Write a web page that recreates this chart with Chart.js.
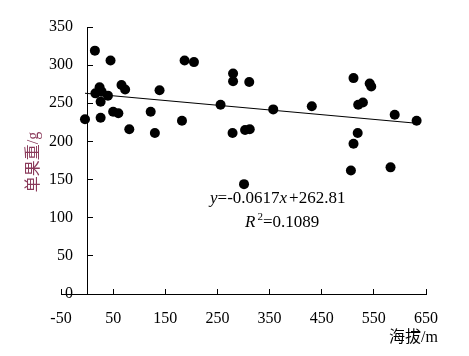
<!DOCTYPE html>
<html><head><meta charset="utf-8">
<script src="https://cdn.jsdelivr.net/npm/chart.js@4.4.1/dist/chart.umd.min.js"></script>
<style>html,body{margin:0;padding:0;background:#fff}canvas{display:block}</style>
</head><body>
<canvas id="c" width="469" height="356"></canvas>
<script>
// 海拔 (m)
const altitude = [-4, 15, 16, 24, 28, 26, 26, 40, 45, 50, 60, 66, 73, 81, 122, 130, 139, 182, 187, 205,
  256, 279, 280, 280, 303, 311, 312, 301, 357, 431, 511, 542, 545, 520, 529, 590, 632, 519, 511, 506, 582];
// 单果重 (g)
const fruitWeight = [229, 319, 263, 271, 265, 252, 231, 260, 306, 239, 237, 274, 268, 216, 239, 211, 267, 227, 306, 304,
  248, 211, 289, 279, 215, 278, 216, 144, 242, 246, 283, 276, 272, 248, 251, 235, 227, 211, 197, 162, 166];
const xTickValues = [-50, 50, 150, 250, 350, 450, 550, 650];
const yTickValues = [0, 50, 100, 150, 200, 250, 300, 350];
const slope = -0.0617;
const intercept = 262.81;
const rSquared = 0.1089;
const xTitle = '海拔/m';
const yTitle = '单果重/g';

const points = altitude.map((a, i) => ({x: a, y: fruitWeight[i]}));
const xMin = Math.min(...altitude), xMax = Math.max(...altitude);
const trend = [xMin, xMax].map(x => ({x, y: intercept + slope * x}));

const serif = '"Liberation Serif","Times New Roman","Noto Sans CJK SC",serif';

const annot = {
  id: 'annot',
  afterDraw(chart) {
    const ctx = chart.ctx;
    ctx.save();
    // y title
    ctx.translate(34, 162);
    ctx.rotate(-Math.PI / 2);
    ctx.fillStyle = '#8a3a5a';
    ctx.font = '16px ' + serif;
    ctx.textAlign = 'center';
    ctx.textBaseline = 'middle';
    ctx.fillText(yTitle, 0, 0);
    ctx.restore();

    ctx.save();
    ctx.fillStyle = '#000';
    ctx.font = '16px ' + serif;
    ctx.textAlign = 'right';
    ctx.textBaseline = 'alphabetic';
    ctx.fillText(xTitle, 438, 342);

    // equation
    const drawRuns = (runs, x, y) => {
      ctx.textAlign = 'left';
      for (const r of runs) {
        ctx.font = (r.italic ? 'italic ' : '') + (r.size || 17) + 'px ' + serif;
        ctx.fillText(r.t, x, y + (r.dy || 0));
        x += ctx.measureText(r.t).width + (r.gap || 0);
      }
    };
    drawRuns([
      {t: 'y', italic: true},
      {t: '=' + slope.toFixed(4)},
      {t: 'x', italic: true, gap: 2},
      {t: '+' + intercept.toFixed(2)}
    ], 210, 203);
    drawRuns([
      {t: 'R', italic: true, gap: 2},
      {t: '2', size: 11, dy: -7},
      {t: '=' + rSquared.toFixed(4)}
    ], 245, 227);
    ctx.restore();
  }
};

const axisGrid = {display: true, drawOnChartArea: false, drawTicks: true, tickLength: -6, color: '#000', lineWidth: 1};

new Chart(document.getElementById('c'), {
  type: 'scatter',
  data: {
    datasets: [
      {
        type: 'line',
        data: trend,
        borderColor: '#000',
        borderWidth: 1.1,
        pointRadius: 0,
        fill: false
      },
      {
        data: points,
        backgroundColor: '#000',
        borderWidth: 0,
        pointRadius: 5,
        pointHoverRadius: 5
      }
    ]
  },
  options: {
    responsive: false,
    animation: false,
    devicePixelRatio: 1,
    layout: {padding: {left: 61, right: 43, top: 27, bottom: 62}},
    plugins: {legend: {display: false}, tooltip: {enabled: false}},
    scales: {
      x: {
        type: 'linear',
        min: -50, max: 650,
        position: {y: 0},
        afterBuildTicks: s => { s.ticks = xTickValues.map(v => ({value: v})); },
        grid: axisGrid,
        border: {display: true, color: '#000', width: 1},
        ticks: {color: '#000', font: {family: serif, size: 16}, padding: 21, maxRotation: 0, autoSkip: false}
      },
      y: {
        type: 'linear',
        min: 0, max: 350,
        position: {x: 0},
        afterBuildTicks: s => { s.ticks = yTickValues.map(v => ({value: v})); },
        grid: axisGrid,
        border: {display: true, color: '#000', width: 1},
        ticks: {display: false}
      },
      yLabels: {
        type: 'linear',
        axis: 'y',
        min: 0, max: 350,
        position: 'left',
        afterBuildTicks: s => { s.ticks = yTickValues.map(v => ({value: v})); },
        afterFit: s => { s.width = 0; },
        grid: {display: false, drawTicks: false},
        border: {display: false},
        ticks: {color: '#000', font: {family: serif, size: 16}, mirror: true, crossAlign: 'far', padding: -12, autoSkip: false}
      }
    }
  },
  plugins: [annot]
});
</script>
</body></html>
